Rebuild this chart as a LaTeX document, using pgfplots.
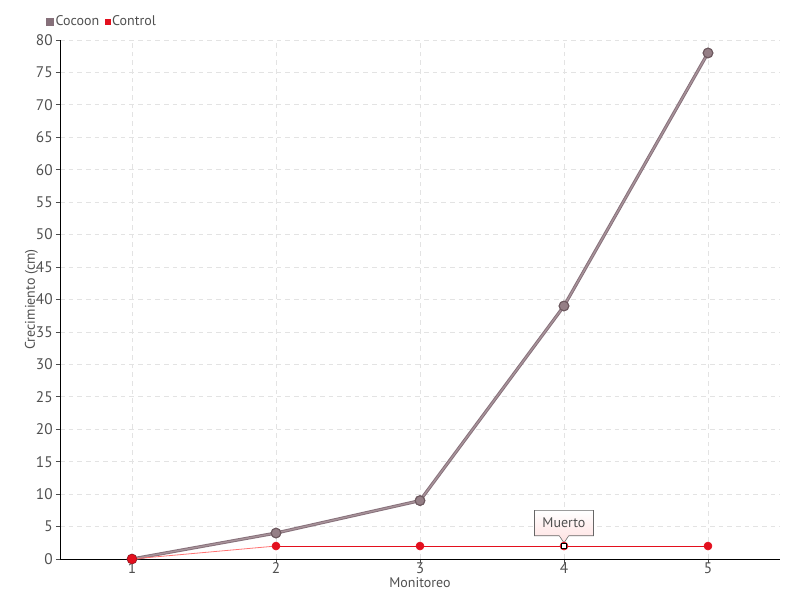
\documentclass[border=0pt]{standalone}
\usepackage{fontspec}
\setmainfont{PT Sans}
\usepackage{pgfplots}
\pgfplotsset{compat=1.18}
\usetikzlibrary{shapes.callouts}
\definecolor{txt}{HTML}{505050}
\definecolor{cocoonL}{HTML}{A8939A}
\definecolor{cocoonD}{HTML}{957F86}
\definecolor{cocoonE}{HTML}{86707A}
\definecolor{cocoonM}{HTML}{6E5A60}
\definecolor{ctrl}{HTML}{E3101E}
\definecolor{gridc}{HTML}{E3E3E3}
\begin{document}
\begin{tikzpicture}
\begin{axis}[
  width=540pt, height=389.25pt, scale only axis,
  xmin=0.5, xmax=5.5, ymin=0, ymax=80,
  xtick={1,2,3,4,5}, ytick={0,5,...,80},
  axis x line*=bottom, axis y line*=left,
  axis line style={black, -, line width=0.7pt},
  grid=major, major grid style={gridc, dash pattern=on 3.5pt off 3pt, line width=0.6pt},
  tick style={black!70, line width=0.6pt}, major tick length=3pt,
  tick align=outside,
  ticklabel style={font=\fontsize{11.5}{13}\selectfont, text=txt},
  xticklabel style={yshift=4pt},
  yticklabel style={xshift=1pt},
  /pgf/number format/assume math mode=true,
  xlabel={Monitoreo}, ylabel={Crecimiento (cm)},
  label style={font=\fontsize{10.5}{12}\selectfont, text=txt},
  xlabel style={at={(axis description cs:0.5,0)}, anchor=center, yshift=-17.5pt},
  ylabel style={at={(axis description cs:0,0.5)}, anchor=center, yshift=21.5pt},
  legend style={at={(-0.02,1.035)}, anchor=west, draw=none, fill=none,
    font=\fontsize{10.5}{12}\selectfont, text=txt, legend columns=2,
    inner xsep=0pt,
    /tikz/every even column/.append style={column sep=3pt},
    nodes={inner xsep=1pt}},
  legend image code/.code={\fill[#1] (0pt,-2pt) rectangle (4pt,2pt);},
  clip=false,
]
\coordinate (ll) at (rel axis cs:0,0);
\addplot[cocoonE, line width=2.4pt, mark=*, mark size=3.6pt,
  mark options={fill=cocoonD, draw=cocoonM, line width=0.8pt}] coordinates {(1,0) (2,4) (3,9) (4,39) (5,78)};
\addlegendentry{Cocoon}
\addplot[cocoonL, line width=1.0pt, forget plot] coordinates {(1,0) (2,4) (3,9) (4,39) (5,78)};
\addplot[only marks, mark=*, mark size=3.6pt, mark options={fill=cocoonD, draw=cocoonM, line width=0.8pt}, forget plot] coordinates {(2,4) (3,9) (4,39) (5,78)};
\addplot[ctrl, line width=0.6pt, mark=*, mark size=3pt,
  mark options={fill=ctrl, draw=ctrl, line width=0.4pt}] coordinates {(2,2) (3,2) (4,2) (5,2)};
\addlegendentry{Control}
\addplot[red!55!white, line width=0.6pt, forget plot] coordinates {(1,0) (2,2)};
\addplot[only marks, mark=square*, mark size=2pt, mark options={fill=white, draw=black, line width=0.8pt}, forget plot] coordinates {(4,2)};
\addplot[only marks, mark=*, mark size=3.6pt, mark options={fill=ctrl, draw=ctrl!80!black}, forget plot] coordinates {(1,0)};
\node[rectangle callout, draw=black!60, top color=white, bottom color=red!12,
  font=\fontsize{10.5}{12}\selectfont, text=txt, inner xsep=6pt, inner ysep=3pt, minimum height=19pt,
  callout absolute pointer={(axis cs:4,2.5)}, anchor=south] at ([yshift=7.5pt]axis cs:4,2) {Muerto};
\end{axis}
\pgfresetboundingbox
\path[use as bounding box] ([shift={(-45pt,-30.75pt)}]ll) rectangle ([shift={(555pt,419.25pt)}]ll);
\end{tikzpicture}
\end{document}
